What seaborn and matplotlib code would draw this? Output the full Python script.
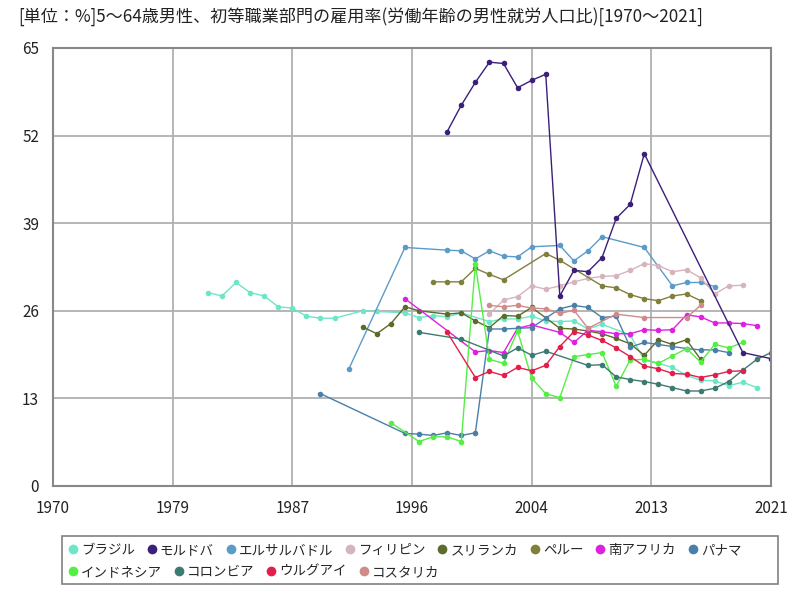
import matplotlib
matplotlib.use("Agg")
import matplotlib.pyplot as plt
import seaborn as sns
from matplotlib.lines import Line2D
from matplotlib.patches import Rectangle

# ---- data ----
countries = ["ブラジル", "モルドバ", "エルサルバドル", "フィリピン", "スリランカ", "ペルー",
             "南アフリカ", "パナマ", "インドネシア", "コロンビア", "ウルグアイ", "コスタリカ"]

brazil_years = [1981, 1982, 1983, 1984, 1985, 1986, 1987, 1988, 1989, 1990, 1992, 1993, 1995, 1996,
                1997, 1998, 1999, 2001, 2002, 2003, 2004, 2005, 2006, 2007, 2008, 2009, 2011, 2012,
                2013, 2014, 2015, 2016, 2017, 2018, 2019, 2020]
brazil_vals = [28.7, 28.2, 30.2, 28.7, 28.2, 26.6, 26.4, 25.2, 24.9, 24.9, 26.0, 25.9, 25.7, 25.0,
               25.3, 25.1, 25.7, 24.4, 24.8, 24.8, 25.2, 24.5, 24.4, 24.5, 23.3, 24.0, 22.4, 18.7,
               18.2, 17.6, 16.4, 15.7, 15.6, 14.9, 15.4, 14.6]

moldova_years = [1998, 1999, 2000, 2001, 2002, 2003, 2004, 2005, 2006, 2007, 2008, 2009, 2010,
                 2011, 2012, 2019, 2021]
moldova_vals = [52.6, 56.5, 59.9, 62.9, 62.7, 59.1, 60.2, 61.1, 28.2, 32.0, 31.8, 33.9, 39.7,
                41.8, 49.3, 19.8, 18.9]

salvador_years = [1991, 1995, 1998, 1999, 2000, 2001, 2002, 2003, 2004, 2006, 2007, 2008, 2009,
                  2012, 2014, 2015, 2016, 2017]
salvador_vals = [17.3, 35.4, 35.0, 34.9, 33.7, 34.9, 34.1, 34.0, 35.5, 35.7, 33.4, 34.9, 37.0,
                 35.4, 29.7, 30.2, 30.2, 29.6]

philippines_years = [2001, 2002, 2003, 2004, 2005, 2006, 2007, 2008, 2009, 2010, 2011, 2012, 2013,
                     2014, 2015, 2016, 2017, 2018, 2019]
philippines_vals = [25.5, 27.6, 28.1, 29.7, 29.2, 29.7, 30.3, 30.8, 31.1, 31.2, 32.0, 33.0, 32.7,
                    31.8, 32.1, 30.9, 28.5, 29.7, 29.8]

srilanka_years = [1992, 1993, 1994, 1995, 1996, 1998, 1999, 2000, 2001, 2002, 2003, 2004, 2006,
                  2007, 2008, 2009, 2010, 2011, 2012, 2013, 2014, 2015, 2016]
srilanka_vals = [23.6, 22.6, 24.1, 26.6, 26.0, 25.5, 25.7, 24.5, 23.5, 25.3, 25.2, 26.5, 23.4,
                 23.3, 23.0, 22.6, 21.9, 21.1, 19.4, 21.7, 21.0, 21.7, 18.8]

peru_years = [1997, 1998, 1999, 2000, 2001, 2002, 2005, 2006, 2009, 2010, 2011, 2012, 2013, 2014,
              2015, 2016]
peru_vals = [30.3, 30.3, 30.3, 32.3, 31.4, 30.6, 34.5, 33.5, 29.7, 29.4, 28.4, 27.8, 27.5, 28.2,
             28.5, 27.5]

safrica_years = [1995, 2000, 2001, 2002, 2003, 2004, 2006, 2007, 2008, 2009, 2010, 2011, 2012,
                 2013, 2014, 2015, 2016, 2017, 2018, 2019, 2020]
safrica_vals = [27.8, 19.9, 20.1, 19.8, 23.4, 23.9, 22.8, 21.3, 23.1, 22.9, 22.6, 22.6, 23.2,
                23.1, 23.2, 25.4, 25.1, 24.2, 24.2, 24.1, 23.8]

panama_years = [1989, 1995, 1996, 1997, 1998, 1999, 2000, 2001, 2002, 2003, 2004, 2005, 2006,
                2007, 2008, 2009, 2010, 2011, 2012, 2013, 2014, 2015, 2016, 2017, 2018]
panama_vals = [13.7, 7.8, 7.7, 7.5, 7.9, 7.5, 7.9, 23.3, 23.3, 23.4, 23.5, 24.9, 26.3,
               26.8, 26.5, 25.0, 25.2, 20.6, 21.3, 21.0, 20.7, 20.4, 20.2, 20.2, 19.8]

indonesia_years = [1994, 1996, 1997, 1998, 1999, 2000, 2001, 2002, 2003, 2004, 2005, 2006, 2007,
                   2008, 2009, 2010, 2011, 2012, 2013, 2014, 2015, 2016, 2017, 2018, 2019]
indonesia_vals = [9.4, 6.6, 7.3, 7.3, 6.6, 32.9, 18.8, 18.2, 23.0, 16.0, 13.7, 13.1, 19.2,
                  19.5, 19.8, 14.8, 18.7, 18.8, 18.2, 19.3, 20.4, 18.4, 21.0, 20.5, 21.3]

colombia_years = [1996, 1999, 2002, 2003, 2004, 2005, 2008, 2009, 2010, 2011, 2012, 2013, 2014,
                  2015, 2016, 2017, 2018, 2019, 2020, 2021]
colombia_vals = [22.8, 21.8, 19.3, 20.5, 19.4, 20.0, 17.9, 18.0, 16.2, 15.8, 15.5, 15.1, 14.6,
                 14.1, 14.1, 14.5, 15.5, 17.2, 18.8, 19.8]

uruguay_years = [1998, 2000, 2001, 2002, 2003, 2004, 2005, 2006, 2007, 2008, 2009, 2010, 2011,
                 2012, 2013, 2014, 2015, 2016, 2017, 2018, 2019]
uruguay_vals = [22.8, 16.1, 17.0, 16.4, 17.6, 17.1, 17.9, 20.7, 22.9, 22.4, 21.6, 20.5, 19.2,
                17.8, 17.4, 16.7, 16.6, 16.1, 16.5, 17.0, 17.1]

costarica_years = [2001, 2002, 2003, 2004, 2005, 2006, 2007, 2008, 2010, 2012, 2015, 2016]
costarica_vals = [26.8, 26.6, 26.8, 26.4, 26.3, 25.6, 26.1, 23.4, 25.5, 25.0, 25.0, 26.8]

x_ticks = [1970, 1978.5, 1987, 1995.5, 2004, 2012.5, 2021]
x_tick_labels = ["1970", "1979", "1987", "1996", "2004", "2013", "2021"]
y_ticks = [0, 13, 26, 39, 52, 65]

title = "[単位：%]5～64歳男性、初等職業部門の雇用率(労働年齢の男性就労人口比)[1970～2021]"

colors = ["#6ee6c6", "#3b1f7a", "#5b9bc8", "#d6b4bc", "#5a6b2a", "#80803c",
          "#e020e0", "#4a7fa8", "#55ee44", "#3d7a72", "#e0204a", "#d08a8a"]

series = [
    (brazil_years, brazil_vals), (moldova_years, moldova_vals),
    (salvador_years, salvador_vals), (philippines_years, philippines_vals),
    (srilanka_years, srilanka_vals), (peru_years, peru_vals),
    (safrica_years, safrica_vals), (panama_years, panama_vals),
    (indonesia_years, indonesia_vals), (colombia_years, colombia_vals),
    (uruguay_years, uruguay_vals), (costarica_years, costarica_vals),
]

# ---- plot ----
sns.set_theme(style="white")
plt.rcParams['font.family'] = ['Noto Sans CJK JP', 'DejaVu Sans']

fig = plt.figure(figsize=(8, 6), dpi=100)
ax = fig.add_axes([53 / 800, 1 - 486 / 600, (771 - 53) / 800, (486 - 48) / 600])

draw_order = [0, 2, 3, 4, 5, 6, 7, 8, 9, 10, 11, 1]
for i in draw_order:
    yrs, vals = series[i]
    sns.lineplot(x=yrs, y=vals, ax=ax, color=colors[i], marker="o", markersize=4,
                 markeredgewidth=0, linewidth=1.0, sort=False, legend=False)

ax.set_xlim(1970, 2021)
ax.set_ylim(0, 65)
ax.set_xticks(x_ticks)
ax.set_xticklabels(x_tick_labels)
ax.set_yticks(y_ticks)
ax.set_xlabel("")
ax.set_ylabel("")
ax.grid(True, color="#b0b0b0", linewidth=1.3)
ax.set_axisbelow(True)
for s in ax.spines.values():
    s.set_color("#888888")
    s.set_linewidth(1.5)
ax.tick_params(axis="both", length=0, labelsize=11, colors="#222222")
ax.tick_params(axis="x", pad=10)
ax.tick_params(axis="y", pad=10)

fig.text(18 / 800, 1 - 17 / 600, title, fontsize=12.3, ha="left", va="center", color="#222222")

# legend: two flowing rows inside one frame
handles = [Line2D([0], [0], marker="o", linestyle="none", markersize=7,
                  markerfacecolor=c, markeredgewidth=0) for c in colors]
kw = dict(frameon=False, fontsize=9.7, handletextpad=0.1, columnspacing=0.75,
          borderaxespad=0, borderpad=0, handlelength=1.0, loc="upper left",
          bbox_transform=fig.transFigure)
leg1 = fig.legend(handles[:8], countries[:8], ncol=8,
                  bbox_to_anchor=(66 / 800, 1 - 543 / 600), **kw)
leg2 = fig.legend(handles[8:], countries[8:], ncol=4,
                  bbox_to_anchor=(66 / 800, 1 - 565 / 600), **kw)
fig.patches.append(Rectangle((62 / 800, 1 - 584 / 600), (778 - 62) / 800, (584 - 536) / 600,
                             transform=fig.transFigure, fill=False, edgecolor="#808080",
                             linewidth=1.2))

fig.savefig("out.png", dpi=100, facecolor="white")
